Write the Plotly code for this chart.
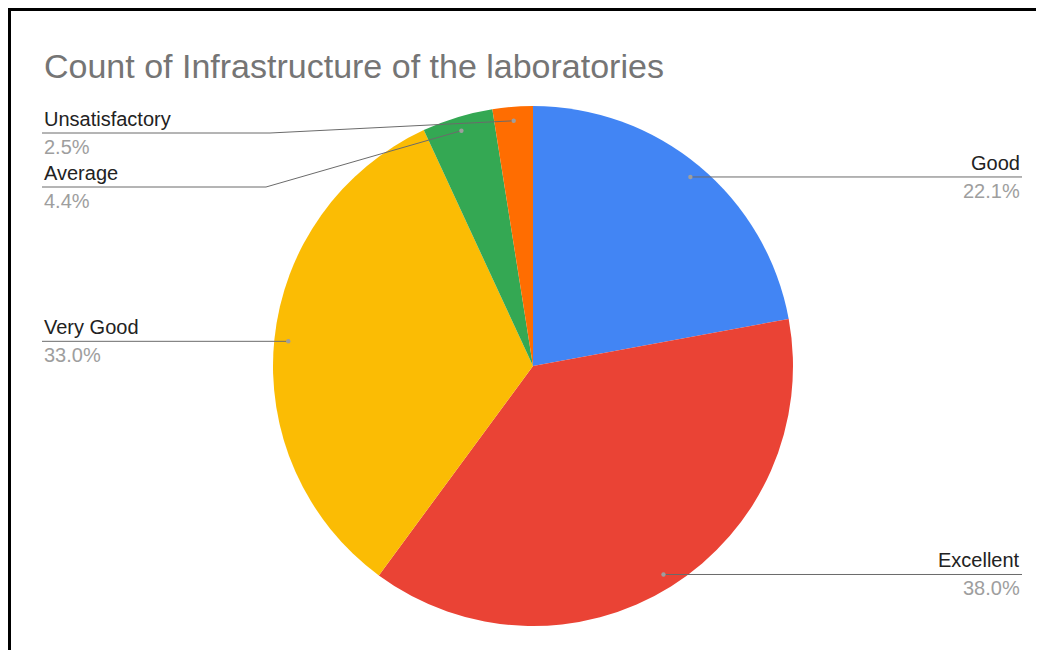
import math
import plotly.graph_objects as go

# ---- data ----
labels = ["Good", "Excellent", "Very Good", "Average", "Unsatisfactory"]
values = [22.1, 38.0, 33.0, 4.4, 2.5]
colors = ["#4285F4", "#EA4335", "#FBBC04", "#34A853", "#FF6D01"]
title_text = "Count of Infrastructure of the laboratories"

# ---- layout (screen pixels; page body adds an 8px offset) ----
OFF = 8
W, H = 1044 - OFF, 650 - OFF
CX, CY, R = 533, 366, 260          # pie centre / radius in screen px (y from top)
DOT_R = 0.946                      # leader dot radius (fraction of R)
LEFT_X, RIGHT_X = 42, 1022         # outer ends of leader lines
label_side = ["right", "right", "left", "left", "left"]
label_line_y = [None, None, None, 187, 133]   # y of horizontal part (None = same as dot)
elbow_x = [None, None, None, 266, 270]

def px(x):
    return (x - OFF) / W

def py(y):
    return 1 - (y - OFF) / H

fig = go.Figure(go.Pie(
    labels=labels, values=values, sort=False, direction="clockwise", rotation=0,
    marker=dict(colors=colors, line=dict(width=0)),
    textinfo="none", hoverinfo="label+percent", showlegend=False,
    domain=dict(x=[px(CX - R), px(CX + R)], y=[py(CY + R), py(CY - R)]),
))

FONT = "Liberation Sans, Arial"
shapes = []
annotations = []
total = sum(values)
cum = 0.0
for i, (lab, v) in enumerate(zip(labels, values)):
    mid = (cum + v / 2) / total * 2 * math.pi
    cum += v
    dx = math.sin(mid) * R * DOT_R
    dy = -math.cos(mid) * R * DOT_R
    x0, y0 = CX + dx, CY + dy
    ly = label_line_y[i] if label_line_y[i] is not None else y0
    ex = elbow_x[i] if elbow_x[i] is not None else x0
    end_x = RIGHT_X if label_side[i] == "right" else LEFT_X
    line_col = "#6b6b6b"
    if ex != x0 or ly != y0:
        shapes.append(dict(type="line", xref="paper", yref="paper",
                           x0=px(x0), y0=py(y0), x1=px(ex), y1=py(ly),
                           line=dict(color=line_col, width=1)))
    shapes.append(dict(type="line", xref="paper", yref="paper",
                       x0=px(ex), y0=py(ly), x1=px(end_x), y1=py(ly),
                       line=dict(color=line_col, width=1)))
    shapes.append(dict(type="circle", xref="paper", yref="paper",
                       x0=px(x0 - 2.2), x1=px(x0 + 2.2), y0=py(y0 + 2.2), y1=py(y0 - 2.2),
                       fillcolor="#9e9e9e", line=dict(width=0)))
    anchor = "right" if label_side[i] == "right" else "left"
    annotations.append(dict(xref="paper", yref="paper", x=px(end_x), y=py(ly - 1),
                            text=lab, showarrow=False, xanchor=anchor, yanchor="bottom",
                            font=dict(family=FONT, size=20, color="#222222")))
    pct = f"{v / total * 100:.1f}%"
    annotations.append(dict(xref="paper", yref="paper", x=px(end_x), y=py(ly + 1),
                            text=pct, showarrow=False, xanchor=anchor, yanchor="top",
                            font=dict(family=FONT, size=20, color="#9e9e9e")))

# title
annotations.append(dict(xref="paper", yref="paper", x=px(42), y=py(66), text=title_text,
                        showarrow=False, xanchor="left", yanchor="middle",
                        font=dict(family=FONT, size=34, color="#757575")))

# frame (top and left border of the screenshot)
shapes.append(dict(type="line", xref="paper", yref="paper", x0=px(8), y0=py(9.5), x1=1, y1=py(9.5),
                   line=dict(color="#000000", width=3)))
shapes.append(dict(type="line", xref="paper", yref="paper", x0=px(9.5), y0=py(8), x1=px(9.5), y1=0,
                   line=dict(color="#000000", width=3)))

fig.update_layout(
    width=W, height=H, margin=dict(l=0, r=0, t=0, b=0),
    paper_bgcolor="white", plot_bgcolor="white",
    shapes=shapes, annotations=annotations,
)
fig.write_html("out.html")
